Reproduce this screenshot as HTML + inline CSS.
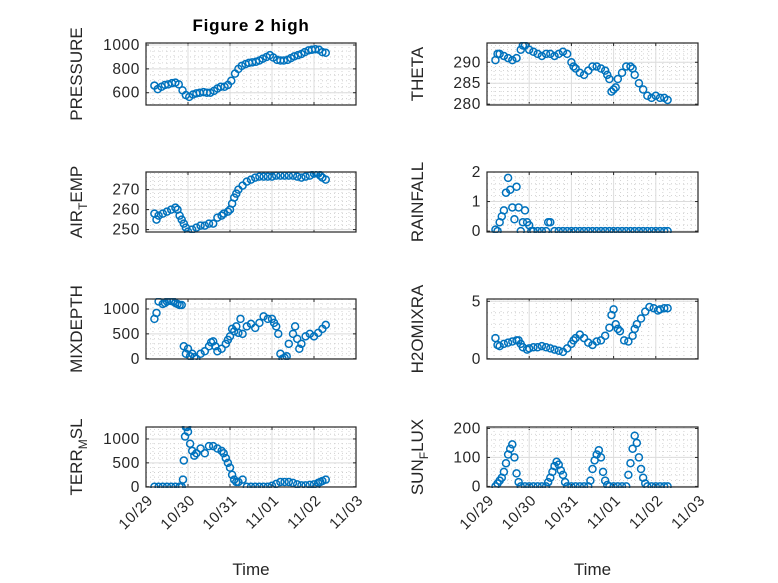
<!DOCTYPE html>
<html><head><meta charset="utf-8"><style>
html,body{margin:0;padding:0;background:#fff;}
svg{display:block;font-family:"Liberation Sans","DejaVu Sans",sans-serif;}
</style></head><body>
<svg id="fig" width="778" height="583" viewBox="0 0 778 583">
<rect width="778" height="583" fill="#fff"/>
<text x="251" y="31" text-anchor="middle" font-size="17" font-weight="bold" letter-spacing="0.8" fill="#000">Figure 2 high</text>
</svg>
<script>
// ---- data (time in days since 10/29 00:00) ----
const dateTicks = ["10/29","10/30","10/31","11/01","11/02","11/03"];
const pressureT = [0.20,0.28,0.37,0.45,0.53,0.62,0.70,0.78,0.87,0.95,1.03,1.12,1.20,1.28,1.37,1.45,1.53,1.62,1.70,1.78,1.87,1.95,2.03,2.12,2.20,2.28,2.37,2.45,2.53,2.62,2.70,2.78,2.87,2.95,3.03,3.12,3.20,3.28,3.37,3.45,3.53,3.62,3.70,3.78,3.87,3.95,4.03,4.12,4.20,4.28];
const pressureV = [660,630,650,665,670,680,685,670,620,580,565,585,595,600,605,600,600,615,635,650,650,665,700,760,800,825,840,850,855,860,870,885,900,915,895,875,870,870,875,890,905,915,925,940,955,960,965,960,940,935];
const airT = [0.2,0.25,0.3,0.4,0.5,0.6,0.7,0.75,0.8,0.85,0.9,0.95,1.0,1.1,1.2,1.3,1.4,1.5,1.6,1.7,1.8,1.85,1.95,2.0,2.05,2.1,2.15,2.2,2.3,2.4,2.5,2.6,2.7,2.8,2.9,3.0,3.1,3.2,3.3,3.4,3.5,3.6,3.7,3.8,3.9,4.0,4.05,4.1,4.15,4.2,4.28];
const airV = [258,255,257,258,259,260,261,260,257,255,253,251,249,250,251,252,252,253,253,256,257,258,259,260,263,266,268,270,272,274,275,276,276.5,276.5,276.5,276.5,277,277,277,277,277,276.5,276,276.5,277,278,278.5,278,277,276,275];
const mixT = [0.2,0.25,0.3,0.4,0.45,0.5,0.55,0.6,0.65,0.7,0.75,0.8,0.85,0.9,0.95,1.0,1.05,1.1,1.15,1.2,1.3,1.4,1.5,1.55,1.6,1.65,1.7,1.8,1.9,1.95,2.0,2.05,2.1,2.15,2.2,2.25,2.3,2.4,2.5,2.6,2.7,2.8,2.9,3.0,3.05,3.1,3.15,3.2,3.25,3.3,3.35,3.4,3.5,3.55,3.6,3.65,3.7,3.8,3.9,4.0,4.1,4.2,4.28];
const mixV = [800,920,1150,1100,1120,1150,1180,1160,1150,1120,1100,1080,1080,250,100,200,50,100,30,0,100,150,250,330,350,250,150,200,300,380,450,600,550,650,520,800,500,650,700,620,720,850,800,800,720,650,500,100,0,20,50,300,500,650,400,200,300,450,500,450,520,600,680];
const terrT = [0.2,0.3,0.4,0.5,0.6,0.7,0.8,0.85,0.88,0.9,0.93,0.95,0.98,1.0,1.05,1.1,1.15,1.2,1.3,1.4,1.5,1.6,1.7,1.8,1.85,1.9,1.95,2.0,2.05,2.1,2.15,2.2,2.3,2.4,2.5,2.6,2.7,2.8,2.9,3.0,3.1,3.2,3.3,3.4,3.5,3.6,3.7,3.8,3.9,4.0,4.05,4.1,4.15,4.2,4.28];
const terrV = [0,0,0,0,0,0,0,0,150,550,1050,1250,1250,1150,900,750,650,700,800,700,850,850,800,750,700,600,500,400,250,150,100,100,150,0,0,0,0,0,0,20,60,100,100,100,80,50,30,30,40,50,0,80,100,120,150];
const thetaT = [0.2,0.25,0.3,0.4,0.5,0.6,0.7,0.8,0.85,0.9,1.0,1.1,1.2,1.3,1.4,1.5,1.6,1.7,1.8,1.9,2.0,2.05,2.1,2.2,2.3,2.4,2.5,2.6,2.7,2.8,2.85,2.9,2.95,3.0,3.05,3.1,3.2,3.3,3.4,3.45,3.5,3.6,3.7,3.8,3.9,4.0,4.1,4.2,4.28];
const thetaV = [290.5,292,292,291.5,291,290.5,291,293,294,294,293,292.5,292,291.5,292,292,291.5,292,292.5,292,290,289,288.5,287.5,287,288,289,289,288.5,288,287,286,283,283.5,284,286,287.5,289,289,288.5,287,285,283.5,282,281.5,282,281.5,281.5,281];
const rainT = [0.2,0.25,0.3,0.35,0.4,0.45,0.5,0.55,0.6,0.65,0.7,0.75,0.8,0.85,0.9,0.95,1.0,1.05,1.1,1.2,1.3,1.4,1.45,1.5,1.6,1.7,1.8,1.9,2.0,2.1,2.2,2.3,2.4,2.5,2.6,2.7,2.8,2.9,3.0,3.1,3.2,3.3,3.4,3.5,3.6,3.7,3.8,3.9,4.0,4.1,4.2,4.28];
const rainV = [0.05,0,0.3,0.5,0.7,1.3,1.8,1.4,0.8,0.4,1.5,0.8,0,0.3,0.7,0.3,0.2,0,0,0,0,0,0.3,0.3,0,0,0,0,0,0,0,0,0,0,0,0,0,0,0,0,0,0,0,0,0,0,0,0,0,0,0,0];
const h2oT = [0.2,0.25,0.3,0.4,0.5,0.6,0.7,0.75,0.8,0.85,0.95,1.0,1.1,1.2,1.3,1.4,1.5,1.6,1.7,1.8,1.9,2.0,2.05,2.1,2.2,2.3,2.4,2.5,2.6,2.7,2.8,2.9,2.95,3.0,3.05,3.1,3.15,3.25,3.35,3.45,3.5,3.55,3.65,3.75,3.85,3.95,4.05,4.1,4.2,4.28];
const h2oV = [1.8,1.2,1.1,1.3,1.4,1.5,1.6,1.6,1.3,1.0,0.8,0.9,1.0,1.0,1.1,1.0,0.9,0.8,0.7,0.6,0.9,1.3,1.6,1.8,2.1,1.8,1.4,1.2,1.5,1.6,2.0,2.7,3.8,4.3,3.0,2.6,2.4,1.6,1.5,2.0,2.6,3.0,3.5,4.1,4.5,4.4,4.2,4.3,4.4,4.4];
const sunT = [0.2,0.25,0.3,0.35,0.4,0.45,0.5,0.55,0.6,0.65,0.7,0.75,0.8,0.9,1.0,1.1,1.2,1.3,1.4,1.45,1.5,1.55,1.6,1.65,1.7,1.75,1.8,1.85,1.9,2.0,2.1,2.2,2.3,2.4,2.45,2.5,2.55,2.6,2.65,2.7,2.75,2.8,2.85,2.9,3.0,3.1,3.2,3.3,3.35,3.4,3.45,3.5,3.55,3.6,3.65,3.7,3.75,3.8,3.9,4.0,4.1,4.2,4.28];
const sunV = [0,10,20,30,50,80,110,130,145,100,45,15,0,0,0,0,0,0,0,15,30,50,70,85,75,55,40,15,0,0,0,0,0,0,20,60,90,110,125,100,50,20,5,0,0,0,0,0,40,80,130,175,150,100,60,30,10,0,0,0,0,0,0];

const NS = "http://www.w3.org/2000/svg";
const svg = document.getElementById("fig");
function mk(tag, attrs, parent){ const e=document.createElementNS(NS,tag); for(const k in attrs) e.setAttribute(k,attrs[k]); (parent||svg).appendChild(e); return e; }

const cols = [{x0:146,x1:356},{x0:487,x1:698}];
const rows = [{y0:43,y1:105},{y0:172,y1:232},{y0:299,y1:359},{y0:427,y1:487}];

const panels = [
 {key:"pressure",col:0,row:0,t:pressureT,v:pressureV,ymin:497,ymax:1017,ticks:[600,800,1000],minor:50,label:[["PRESSURE"]]},
 {key:"air-temp",col:0,row:1,t:airT,v:airV,ymin:248.8,ymax:278.8,ticks:[250,260,270],minor:2,label:[["AIR"],["T","sub"],["EMP"]]},
 {key:"mixdepth",col:0,row:2,t:mixT,v:mixV,ymin:-5,ymax:1200,ticks:[0,500,1000],minor:100,label:[["MIXDEPTH"]]},
 {key:"terr-msl",col:0,row:3,t:terrT,v:terrV,ymin:-5,ymax:1250,ticks:[0,500,1000],minor:100,label:[["TERR"],["M","sub"],["SL"]]},
 {key:"theta",col:1,row:0,t:thetaT,v:thetaV,ymin:279.8,ymax:294.6,ticks:[280,285,290],minor:1,label:[["THETA"]]},
 {key:"rainfall",col:1,row:1,t:rainT,v:rainV,ymin:-0.03,ymax:2,ticks:[0,1,2],minor:0.2,label:[["RAINFALL"]]},
 {key:"h2omixra",col:1,row:2,t:h2oT,v:h2oV,ymin:-0.02,ymax:5.2,ticks:[0,5],minor:1,label:[["H2OMIXRA"]]},
 {key:"sun-flux",col:1,row:3,t:sunT,v:sunV,ymin:-2,ymax:205,ticks:[0,100,200],minor:20,label:[["SUN"],["F","sub"],["LUX"]]}
];

panels.forEach(p=>{
  const c=cols[p.col], r=rows[p.row];
  const xs = t => c.x0 + (t/5)*(c.x1-c.x0);
  const ys = v => r.y1 - (v-p.ymin)/(p.ymax-p.ymin)*(r.y1-r.y0);
  const g = mk("g",{});
  
  
  mk("rect",{x:c.x0,y:r.y0,width:c.x1-c.x0,height:r.y1-r.y0,fill:"#fff"},g);
  for(let d=0; d<5; d++) for(let k=1;k<6;k++){
    const x=xs(d+k/6);
    mk("line",{x1:x,x2:x,y1:r.y0,y2:r.y1,stroke:"#c8c8c8","stroke-width":0.8,"stroke-dasharray":"1 3"},g);
  }
  for(let v=Math.ceil(p.ymin/p.minor)*p.minor; v<=p.ymax; v+=p.minor){
    const y=ys(v); if(y<r.y0||y>r.y1) continue;
    mk("line",{x1:c.x0,x2:c.x1,y1:y,y2:y,stroke:"#c8c8c8","stroke-width":0.8,"stroke-dasharray":"1 3"},g);
  }
  dateTicks.forEach((lab,i)=>{ const x=xs(i); mk("line",{x1:x,x2:x,y1:r.y0,y2:r.y1,stroke:"#dcdcdc","stroke-width":1},g);
    mk("line",{x1:x,x2:x,y1:r.y1,y2:r.y1-3,stroke:"#262626","stroke-width":1},g);
    mk("line",{x1:x,x2:x,y1:r.y0,y2:r.y0+3,stroke:"#262626","stroke-width":1},g);});
  p.ticks.forEach(v=>{ const y=ys(v);
    mk("line",{x1:c.x0,x2:c.x1,y1:y,y2:y,stroke:"#dcdcdc","stroke-width":1},g);
    mk("line",{x1:c.x0,x2:c.x0+3,y1:y,y2:y,stroke:"#262626","stroke-width":1},g);
    mk("line",{x1:c.x1,x2:c.x1-3,y1:y,y2:y,stroke:"#262626","stroke-width":1},g);
    const tl=mk("text",{x:c.x0-6,y:y+5,"text-anchor":"end","font-size":15.5,"letter-spacing":"0.6",fill:"#262626"},g);
    tl.textContent=String(v);
    
    
  });
  const clip = "clip-"+p.key;
  const cp=mk("clipPath",{id:clip},g); mk("rect",{x:c.x0-1,y:r.y0-1,width:c.x1-c.x0+2,height:r.y1-r.y0+2},cp);
  const mg=mk("g",{"clip-path":"url(#"+clip+")"},g);
  p.t.forEach((t,i)=>{
    const m=mk("circle",{cx:xs(t),cy:ys(p.v[i]),r:3.5,fill:"none",stroke:"#0072bd","stroke-width":1.5},mg);
    
    
  });
  mk("rect",{x:c.x0,y:r.y0,width:c.x1-c.x0,height:r.y1-r.y0,fill:"none",stroke:"#262626","stroke-width":1.2},g);
  const lx = c.x0-64, ly=(r.y0+r.y1)/2;
  const yl=mk("text",{x:lx,y:ly,"text-anchor":"middle","font-size":17,fill:"#262626",transform:`rotate(-90 ${lx} ${ly})`},g);
  
  
  p.label.forEach(part=>{
    const ts=document.createElementNS(NS,"tspan"); ts.textContent=part[0];
    if(part[1]==="sub"){ ts.setAttribute("font-size","12"); ts.setAttribute("dy","5"); }
    else if(yl.childNodes.length>0){ ts.setAttribute("dy","-5"); }
    yl.appendChild(ts);
  });
  if(p.row===3){
    dateTicks.forEach((lab,i)=>{
      const x=xs(i)+8, y=501;
      const tl=mk("text",{x:x,y:y,"text-anchor":"end","font-size":15,"letter-spacing":"0.8",fill:"#262626",transform:`rotate(-45 ${x} ${y})`},g);
      tl.textContent=lab;
      
      
    });
    const xt=mk("text",{x:(c.x0+c.x1)/2,y:575,"text-anchor":"middle","font-size":17,fill:"#262626"},g);
    xt.textContent="Time";
    
    
  }
});
</script>
</body></html>
